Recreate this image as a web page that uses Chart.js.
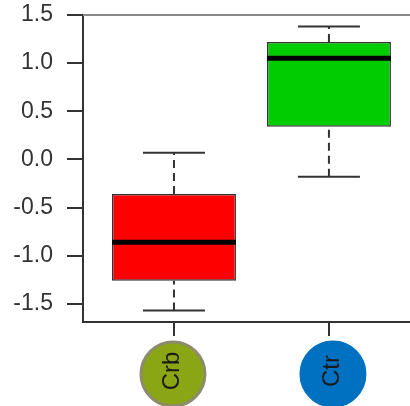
<!DOCTYPE html>
<html>
<head>
<meta charset="utf-8">
<script src="https://cdn.jsdelivr.net/npm/chart.js@4"></script>
<style>
  html, body { margin: 0; padding: 0; background: #fff; }
  #wrap { width: 410px; height: 406px; }
</style>
</head>
<body>
<div id="wrap"><canvas id="chart"></canvas></div>
<script>
// box plot values
const groups = ["Crb", "Ctr"];
const whiskerLow = [-1.57, -0.18];
const q1 = [-1.26, 0.34];
const median = [-0.86, 1.05];
const q3 = [-0.36, 1.22];
const whiskerHigh = [0.07, 1.38];
const yTicks = [-1.5, -1.0, -0.5, 0.0, 0.5, 1.0, 1.5];

const boxColors = ["#ff0000", "#00cc00"];
const labelFill = ["#8ba614", "#0070c0"];
const labelBorder = ["#8c8c6c", "#0070c0"];
const labelShift = [-1, 4];

const halfBox = 0.4;
const halfCap = 0.2;

// build a line dataset of separate segments (null breaks the line)
function segments(list) {
  const pts = [];
  list.forEach((s, i) => {
    if (i > 0) pts.push({ x: (s[0][0] + list[i - 1][1][0]) / 2, y: null });
    pts.push({ x: s[0][0], y: s[0][1] }, { x: s[1][0], y: s[1][1] });
  });
  return pts;
}

const pos = groups.map((g, i) => i + 1);

const whiskerSegs = [];
const capSegs = [];
pos.forEach((p, i) => {
  whiskerSegs.push([[p, q3[i]], [p, whiskerHigh[i]]]);
  whiskerSegs.push([[p, whiskerLow[i]], [p, q1[i]]]);
  capSegs.push([[p - halfCap, whiskerHigh[i]], [p + halfCap, whiskerHigh[i]]]);
  capSegs.push([[p - halfCap, whiskerLow[i]], [p + halfCap, whiskerLow[i]]]);
});
const medianSegs = pos.map((p, i) => [[p - halfBox, median[i]], [p + halfBox, median[i]]]);

const frameAndLabels = {
  id: "frameAndLabels",
  afterDraw(chart) {
    const ctx = chart.ctx;
    const area = chart.chartArea;
    const xs = chart.scales.x;
    ctx.save();
    // top frame line
    ctx.strokeStyle = "#8a8a8a";
    ctx.lineWidth = 2;
    ctx.beginPath();
    ctx.moveTo(area.left, area.top);
    ctx.lineTo(area.right, area.top);
    ctx.stroke();

    groups.forEach((g, i) => {
      const cx = xs.getPixelForValue(pos[i]) + labelShift[i];
      const cy = 374;
      ctx.beginPath();
      ctx.arc(cx, cy, 32, 0, Math.PI * 2);
      ctx.fillStyle = labelFill[i];
      ctx.fill();
      ctx.lineWidth = 3;
      ctx.strokeStyle = labelBorder[i];
      ctx.stroke();

      ctx.save();
      ctx.translate(cx - 1, cy - 3);
      ctx.rotate(-Math.PI / 2);
      ctx.fillStyle = "#1a1a1a";
      ctx.font = "24px 'Liberation Sans', Arial, sans-serif";
      ctx.textAlign = "center";
      ctx.textBaseline = "middle";
      ctx.fillText(g, 0, 0);
      ctx.restore();
    });
    ctx.restore();
  },
};

new Chart(document.getElementById("chart"), {
  type: "bar",
  data: {
    datasets: [
      {
        type: "line",
        data: segments(medianSegs),
        borderColor: "#000",
        borderWidth: 5,
        pointRadius: 0,
        spanGaps: false,
        order: 0,
      },
      {
        type: "bar",
        data: pos.map((p, i) => ({ x: p, y: [q1[i], q3[i]] })),
        backgroundColor: boxColors,
        borderColor: "#333",
        borderWidth: 1.5,
        borderSkipped: false,
        barPercentage: 0.8,
        categoryPercentage: 1,
        order: 1,
      },
      {
        type: "line",
        data: segments(whiskerSegs),
        borderColor: "#333",
        borderWidth: 2,
        borderDash: [8, 5],
        pointRadius: 0,
        spanGaps: false,
        order: 2,
      },
      {
        type: "line",
        data: segments(capSegs),
        borderColor: "#333",
        borderWidth: 2,
        pointRadius: 0,
        spanGaps: false,
        order: 2,
      },
    ],
  },
  options: {
    responsive: true,
    maintainAspectRatio: false,
    animation: false,
    layout: { padding: { top: 15, left: 0, right: 0, bottom: 0 } },
    plugins: { legend: { display: false }, tooltip: { enabled: false } },
    scales: {
      x: {
        type: "linear",
        offset: false,
        min: 0.413,
        max: 2.523,
        grid: {
          display: true,
          offset: false,
          drawOnChartArea: false,
          drawTicks: true,
          tickLength: 14,
          color: "#333",
          lineWidth: 2,
        },
        border: { display: true, color: "#333", width: 2 },
        ticks: { display: false },
        afterBuildTicks(scale) {
          scale.ticks = pos.map((v) => ({ value: v }));
        },
        afterFit(scale) {
          scale.height = 84;
          scale.paddingLeft = 0;
          scale.paddingRight = 0;
        },
      },
      y: {
        min: -1.689,
        max: 1.5,
        grid: {
          display: true,
          drawOnChartArea: false,
          drawTicks: true,
          tickLength: 16,
          color: "#333",
          lineWidth: 2,
        },
        border: { display: true, color: "#333", width: 2 },
        ticks: {
          padding: 14,
          color: "#333",
          font: { family: "'Liberation Sans', Arial, sans-serif", size: 23 },
          callback: (v) => Number(v).toFixed(1),
        },
        afterBuildTicks(scale) {
          scale.ticks = yTicks.map((v) => ({ value: v }));
        },
        afterFit(scale) {
          scale.width = 83;
          scale.paddingTop = 0;
          scale.paddingBottom = 0;
        },
      },
    },
  },
  plugins: [frameAndLabels],
});
</script>
</body>
</html>
